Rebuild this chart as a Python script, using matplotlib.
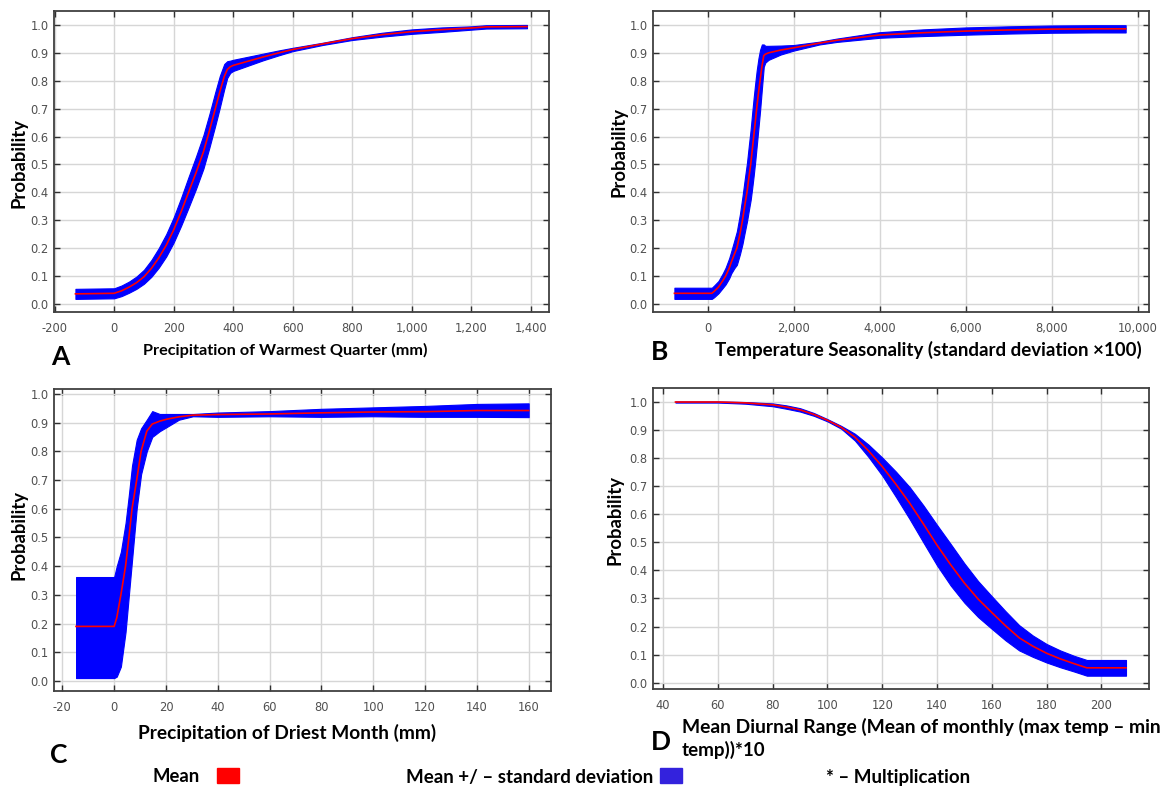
import numpy as np
import matplotlib
matplotlib.use('Agg')
import matplotlib.pyplot as plt
from matplotlib.patches import Rectangle
from matplotlib.ticker import FuncFormatter

# ---- data ----
# A: precipitation of warmest quarter
x_a = [-130, 0, 25, 50, 75, 100, 125, 150, 175, 200, 225, 250, 275, 300, 320, 340,
       355, 370, 380, 390, 400, 450, 500, 550, 600, 700, 800, 900, 1000, 1100, 1200,
       1250, 1387]
mean_a = [0.036, 0.038, 0.047, 0.06, 0.076, 0.097, 0.127, 0.165, 0.21, 0.265, 0.33,
          0.40, 0.47, 0.545, 0.62, 0.70, 0.76, 0.815, 0.84, 0.85, 0.855, 0.87, 0.885,
          0.899, 0.912, 0.932, 0.951, 0.965, 0.976, 0.983, 0.989, 0.993, 0.994]
sd_a = [0.018, 0.018, 0.019, 0.02, 0.022, 0.025, 0.03, 0.035, 0.04, 0.045, 0.05,
        0.055, 0.058, 0.06, 0.06, 0.06, 0.057, 0.045, 0.03, 0.022, 0.02, 0.016, 0.012,
        0.009, 0.006, 0.004, 0.005, 0.007, 0.008, 0.008, 0.006, 0.006, 0.006]

# B: temperature seasonality
x_b = [-774, 96, 150, 250, 350, 417, 500, 550, 620, 678, 750, 809, 860, 913, 960,
       1000, 1035, 1070, 1105, 1139, 1180, 1217, 1260, 1304, 1340, 1417, 1700, 2000,
       2600, 3000, 4000, 5000, 6000, 7000, 8000, 9000, 9720]
mean_b = [0.038, 0.038, 0.045, 0.06, 0.083, 0.10, 0.128, 0.15, 0.178, 0.20, 0.25,
          0.30, 0.35, 0.40, 0.455, 0.50, 0.55, 0.60, 0.65, 0.70, 0.755, 0.80, 0.85,
          0.89, 0.895, 0.90, 0.91, 0.918, 0.935, 0.945, 0.964, 0.972, 0.978, 0.982,
          0.985, 0.986, 0.986]
sd_b = [0.02, 0.02, 0.021, 0.022, 0.026, 0.03, 0.036, 0.04, 0.05, 0.06, 0.072, 0.085,
        0.095, 0.105, 0.117, 0.127, 0.135, 0.14, 0.14, 0.136, 0.125, 0.11, 0.08, 0.04,
        0.03, 0.025, 0.016, 0.01, 0.005, 0.006, 0.01, 0.012, 0.013, 0.013, 0.013,
        0.013, 0.013]

# C: precipitation of driest month
x_c = [-14.7, 0, 1, 2.6, 4.4, 5.7, 6.9, 8.7, 10.4, 12.6, 14.7, 17.6, 20.4, 25, 30.4,
       40, 60, 80, 100, 120, 140, 160]
mean_c = [0.19, 0.19, 0.22, 0.30, 0.40, 0.50, 0.60, 0.70, 0.80, 0.87, 0.895, 0.905,
          0.912, 0.92, 0.926, 0.928, 0.93, 0.934, 0.937, 0.938, 0.942, 0.942]
lo_c = [0.01, 0.01, 0.015, 0.05, 0.17, 0.30, 0.42, 0.60, 0.72, 0.80, 0.85, 0.87,
        0.885, 0.91, 0.922, 0.92, 0.922, 0.92, 0.922, 0.92, 0.92, 0.919]
hi_c = [0.362, 0.362, 0.40, 0.45, 0.55, 0.65, 0.75, 0.84, 0.88, 0.91, 0.94, 0.93,
        0.93, 0.93, 0.93, 0.935, 0.94, 0.948, 0.953, 0.958, 0.965, 0.967]

# D: mean diurnal range
x_d = [44.5, 60, 70, 80, 85, 90, 95, 100, 105, 110, 115, 120, 125, 130, 135, 140,
       145, 150, 155, 160, 165, 170, 175, 180, 185, 190, 194.7, 209]
mean_d = [1.0, 1.0, 0.997, 0.99, 0.982, 0.972, 0.956, 0.935, 0.91, 0.875, 0.826,
          0.77, 0.707, 0.64, 0.566, 0.49, 0.42, 0.355, 0.298, 0.25, 0.203, 0.16, 0.13,
          0.105, 0.085, 0.068, 0.053, 0.053]
sd_d = [0.002, 0.002, 0.003, 0.005, 0.006, 0.006, 0.005, 0.004, 0.005, 0.012, 0.022,
        0.032, 0.045, 0.057, 0.066, 0.072, 0.074, 0.07, 0.064, 0.058, 0.052, 0.045,
        0.038, 0.033, 0.03, 0.028, 0.028, 0.028]

xticks_a = [-200, 0, 200, 400, 600, 800, 1000, 1200, 1400]
xticks_b = [0, 2000, 4000, 6000, 8000, 10000]
xticks_c = [-20, 0, 20, 40, 60, 80, 100, 120, 140, 160]
xticks_d = [40, 60, 80, 100, 120, 140, 160, 180, 200]
yticks = [0.0, 0.1, 0.2, 0.3, 0.4, 0.5, 0.6, 0.7, 0.8, 0.9, 1.0]

W, H = 1164, 789
fig = plt.figure(figsize=(W / 100, H / 100), dpi=100)
fig.patch.set_facecolor('white')

BLUE = '#0000ff'
RED = '#ff0000'
LBL = 'Lato'


def px(x0, y0, x1, y1):
    # pixel box -> figure fraction [left, bottom, width, height]
    return [x0 / W, 1 - y1 / H, (x1 - x0) / W, (y1 - y0) / H]


def style(ax, xticks, xlim, ylim):
    ax.set_xlim(*xlim)
    ax.set_ylim(*ylim)
    ax.set_xticks(xticks)
    ax.set_yticks(yticks)
    ax.xaxis.set_major_formatter(FuncFormatter(lambda v, p: '{:,.0f}'.format(v)))
    ax.yaxis.set_major_formatter(FuncFormatter(lambda v, p: '%.1f' % v))
    ax.grid(True, color='#d6d6d6', lw=1.0)
    ax.set_axisbelow(True)
    ax.tick_params(direction='in', top=True, right=True, length=4, width=1,
                   color='#303030', labelcolor='#505050', labelsize=8.3)
    ax.tick_params(axis='x', pad=7)
    ax.tick_params(axis='y', pad=4)
    for s in ax.spines.values():
        s.set_color('#404040')
        s.set_linewidth(1.3)


def panel(box, x, mean, lo, hi, xticks, xlim, ylim):
    ax = fig.add_axes(px(*box))
    ax.fill_between(x, lo, hi, color=BLUE, lw=0.8, ec=BLUE)
    ax.plot(x, mean, color=RED, lw=1.2)
    style(ax, xticks, xlim, ylim)
    return ax


ma, mb, md = np.array(mean_a), np.array(mean_b), np.array(mean_d)
panel((54, 10.7, 549.3, 312), x_a, ma, ma - sd_a, ma + sd_a, xticks_a,
      (-202, 1462), (-0.029, 1.051))
panel((653.3, 10.7, 1149, 312), x_b, mb, mb - sd_b, mb + sd_b, xticks_b,
      (-1265, 10263), (-0.029, 1.051))
panel((54.3, 389, 550.7, 691), x_c, mean_c, lo_c, hi_c, xticks_c,
      (-23.1, 168.5), (-0.035, 1.017))
panel((653.3, 387.7, 1149, 689.3), x_d, md, md - sd_d, md + sd_d, xticks_d,
      (36.4, 217.4), (-0.0235, 1.051))

fig.canvas.draw()
rend = fig.canvas.get_renderer()


def put(x, y, s, width=None, size=13, ha='center', va='center', rot=0):
    t = fig.text(x / W, 1 - y / H, s, family=[LBL, 'DejaVu Sans'], weight='bold',
                 size=size, ha=ha, va=va, rotation=rot, color='black')
    if width:
        bb = t.get_window_extent(rend)
        L = bb.height if rot else bb.width
        t.set_fontsize(size * width / L)
    return t


# y labels
put(18.6, 163, 'Probability', 90, rot=90)
put(619, 152, 'Probability', 90, rot=90)
put(18.6, 535, 'Probability', 90, rot=90)
put(615, 520, 'Probability', 90, rot=90)

# x labels
put(143, 350, 'Precipitation of Warmest Quarter (mm)', 284, ha='left')
put(714.6, 350, 'Temperature Seasonality (standard deviation \u00d7100)', 428, ha='left')
put(138, 733, 'Precipitation of Driest Month (mm)', 299, ha='left')
put(682, 727, 'Mean Diurnal Range (Mean of monthly (max temp \u2013 min', 478, ha='left')
put(682, 750, 'temp))*10', None, size=13.5, ha='left')

# panel letters
put(60, 357, 'A', size=19)
put(660, 352, 'B', size=19)
put(59, 755, 'C', size=19)
put(661, 742, 'D', size=19)

# legend row
put(152.7, 777, 'Mean', 47, ha='left')
put(406, 777, 'Mean +/ \u2013 standard deviation', 247.6, ha='left')
put(825.8, 777, '* \u2013 Multiplication', 144.7, ha='left')
fig.patches.append(Rectangle((216.7 / W, 1 - 783 / H), 22.6 / W, 15 / H,
                             transform=fig.transFigure, color=RED, figure=fig))
fig.patches.append(Rectangle((660 / W, 1 - 783 / H), 22 / W, 15 / H,
                             transform=fig.transFigure, color='#3322dd', figure=fig))

fig.savefig('out.png', dpi=100, facecolor='white')
